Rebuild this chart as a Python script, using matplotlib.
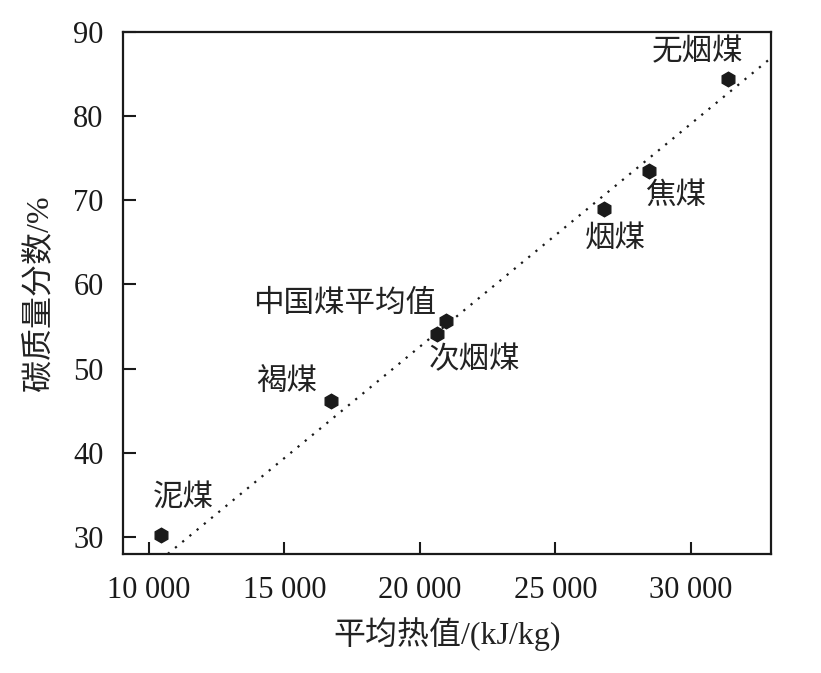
import numpy as np
import matplotlib
matplotlib.use("Agg")
import matplotlib.pyplot as plt

plt.rcParams['font.family'] = ['Liberation Serif', 'Noto Sans CJK SC']

# coal types: average heating value (kJ/kg) vs carbon mass fraction (%)
names = ['泥煤', '褐煤', '中国煤平均值', '次烟煤', '烟煤', '焦煤', '无烟煤']
heat = [10450, 16720, 20960, 20630, 26790, 28450, 31370]
carbon = [30.2, 46.2, 55.6, 54.1, 68.9, 73.4, 84.4]

# dotted trend line
trend_x = [10700, 33000]
trend_y = [28.0, 87.0]

x_ticks = [10000, 15000, 20000, 25000, 30000]
x_labels = ['10 000', '15 000', '20 000', '25 000', '30 000']
y_ticks = [30, 40, 50, 60, 70, 80, 90]

# label offsets in points
offsets = [(16, 27), (-32, 13), (-73, 12), (27, -19), (8, -22), (19, -18), (-22, 19)]

fig = plt.figure(figsize=(8.21, 6.73), dpi=100)
ax = fig.add_axes([0.150, 0.177, 0.789, 0.776])

ax.plot(trend_x, trend_y, linestyle=(0, (1, 3.2)), color='#1a1a1a', linewidth=1.6)
ax.plot(heat, carbon, linestyle='none', marker='h', markersize=10.5, color='#1a1a1a')

for n, x, y, off in zip(names, heat, carbon, offsets):
    ax.annotate(n, (x, y), xytext=off, textcoords='offset points',
                ha='center', va='center', fontsize=22, color='#222222')

ax.set_xlim(9050, 32950)
ax.set_ylim(28, 90)
ax.set_xticks(x_ticks)
ax.set_xticklabels(x_labels)
ax.set_yticks(y_ticks)
ax.tick_params(direction='in', length=9, width=1.5, labelsize=22, colors='#1a1a1a')
ax.tick_params(axis='x', pad=16)
ax.tick_params(axis='y', pad=14)
for s in ax.spines.values():
    s.set_linewidth(1.6)
    s.set_color('#1a1a1a')

ax.set_xlabel('平均热值/(kJ/kg)', fontsize=23, labelpad=9, color='#222222')
ax.set_ylabel('碳质量分数/%', fontsize=23, labelpad=14, color='#222222')

fig.savefig('out.png', dpi=100)
